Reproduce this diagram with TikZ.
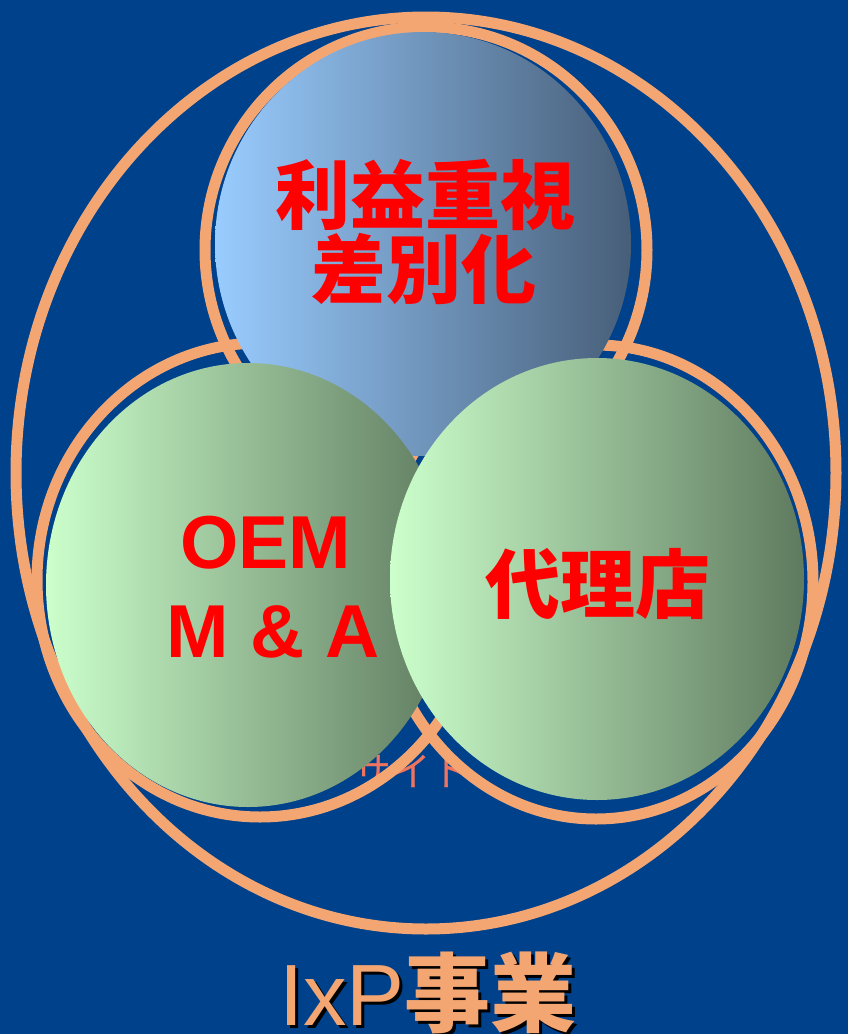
\documentclass[tikz,border=0pt]{standalone}
\usepackage{fontspec}
\setmainfont{Liberation Sans}
\newfontfamily\cjk{Noto Sans CJK JP}
\definecolor{bgblue}{RGB}{0,65,140}
\definecolor{ringorange}{RGB}{244,166,114}
\definecolor{txtred}{RGB}{255,0,0}
\definecolor{sitesalmon}{RGB}{238,116,96}
\definecolor{bluelight}{RGB}{153,204,255}
\definecolor{bluedark}{RGB}{71,94,120}
\definecolor{greenlight}{RGB}{204,255,204}
\definecolor{greendark}{RGB}{95,122,95}
\tikzset{
  ring/.style={draw=ringorange, line width=11pt},
  bluefill/.style={left color=bluelight, right color=bluedark, draw=none},
  greenfill/.style={left color=greenlight, right color=greendark, draw=none},
  cjkred/.style={text=txtred, inner sep=0pt, font=\cjk\bfseries\fontsize{75}{75}\selectfont},
  latred/.style={text=txtred, inner sep=0pt, font=\bfseries\fontsize{75}{75}\selectfont},
  sitetext/.style={text=sitesalmon, inner sep=0pt, font=\cjk\fontsize{40}{40}\selectfont},
  titletext/.style={inner sep=0pt, anchor=base west}
}
\begin{document}
\begin{tikzpicture}[x=1pt,y=-1pt]
\useasboundingbox (0,0) rectangle (848,1034);
\fill[bgblue] (0,0) rectangle (848,1034);
% hidden label behind circles
\node[sitetext, anchor=base east] (site) at (472,786) {サイト};
% outlines
\draw[ring] (426,473) ellipse [x radius=410pt, y radius=456pt];
\draw[ring] (426,250) ellipse [x radius=221pt, y radius=223pt];
\draw[ring] (260,580) ellipse [x radius=223pt, y radius=237pt];
\draw[ring] (596,582) ellipse [x radius=217pt, y radius=237pt];
% fills
\path[bluefill] (423,244) ellipse [x radius=208pt, y radius=212pt];
\path[greenfill] (248,585) ellipse [x radius=202pt, y radius=222pt];
\path[greenfill] (597,579) ellipse [x radius=207pt, y radius=221pt];
% texts
\node[cjkred, anchor=base] (t1) at (425,223) {利益重視};
\node[cjkred, anchor=base] (t2) at (424,297) {差別化};
\node[latred, anchor=base] (oem) at (266,568) {OEM};
\node[latred, anchor=base] (ma) at (273,657) {M \& A};
\node[cjkred, anchor=base] (dairi) at (598,612) {代理店};
% title with shadow
\node[titletext, text=black] (titleshadow) at (282,1028) {\fontsize{87}{87}\selectfont IxP{\cjk\bfseries\fontsize{86}{86}\selectfont 事業}};
\node[titletext, text=ringorange] (title) at (279,1025) {\fontsize{87}{87}\selectfont IxP{\cjk\bfseries\fontsize{86}{86}\selectfont 事業}};
\end{tikzpicture}
\end{document}
